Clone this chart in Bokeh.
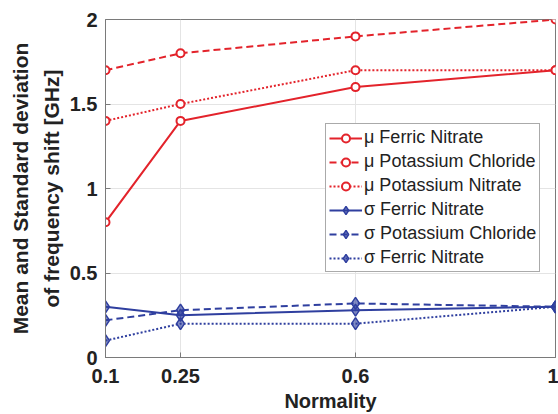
from bokeh.plotting import figure
from bokeh.models import FixedTicker, Legend, LegendItem
from bokeh.embed import file_html
from bokeh.resources import INLINE

normality = [0.1, 0.25, 0.6, 1.0]
mu_ferric_nitrate = [0.8, 1.4, 1.6, 1.7]
mu_potassium_chloride = [1.7, 1.8, 1.9, 2.0]
mu_potassium_nitrate = [1.4, 1.5, 1.7, 1.7]
sigma_ferric_nitrate = [0.3, 0.25, 0.28, 0.3]
sigma_potassium_chloride = [0.22, 0.28, 0.32, 0.3]
sigma_ferric_nitrate_2 = [0.1, 0.2, 0.2, 0.3]

x_ticks = [0.1, 0.25, 0.6, 1.0]
x_tick_labels = ["0.1", "0.25", "0.6", "1"]
y_ticks = [0, 0.5, 1, 1.5, 2]
y_tick_labels = ["0", "0.5", "1", "1.5", "2"]

RED = "#e3232b"
BLUE = "#2f3f9f"
FONT = "Liberation Sans"

p = figure(width=558, height=414, x_range=(0.1, 1.0), y_range=(0, 2),
           output_backend="svg", toolbar_location=None,
           min_border_left=105, min_border_right=3, min_border_top=19,
           min_border_bottom=57)
p.background_fill_color = "white"
p.border_fill_color = "white"
p.outline_line_color = "#7a7a7a"
p.outline_line_width = 1

for ax in (p.xaxis[0], p.yaxis[0]):
    ax.major_label_text_font = FONT
    ax.major_label_text_font_style = "bold"
    ax.major_label_text_font_size = "20px"
    ax.major_label_text_color = "#222222"
    ax.axis_label_text_font = FONT
    ax.axis_label_text_font_style = "bold"
    ax.axis_label_text_font_size = "21px"
    ax.axis_label_text_color = "#222222"
    ax.major_tick_in = 5
    ax.major_tick_out = 0
    ax.minor_tick_in = 0
    ax.minor_tick_out = 0
    ax.axis_line_color = "#7a7a7a"
    ax.major_tick_line_color = "#7a7a7a"

p.yaxis.axis_label_text_line_height = 1.35
p.xaxis.axis_label_text_font_size = "20px"
p.xaxis.axis_label_text_line_height = 1.0
p.xaxis.ticker = FixedTicker(ticks=x_ticks)
p.xaxis.major_label_overrides = {t: l for t, l in zip(x_ticks, x_tick_labels)}
p.yaxis.ticker = FixedTicker(ticks=y_ticks)
p.yaxis.major_label_overrides = {t: l for t, l in zip(y_ticks, y_tick_labels)}
p.xaxis.axis_label = "Normality"
p.yaxis.axis_label = "Mean and Standard deviation\nof frequency shift [GHz]"
p.xaxis.major_label_standoff = 11
p.yaxis.major_label_standoff = 8
p.yaxis.axis_label_standoff = 4
p.xaxis.axis_label_standoff = 4

p.xgrid.grid_line_color = "#e4e4e4"
p.ygrid.grid_line_color = "#e4e4e4"

series = [
    ("\u03bc Ferric Nitrate", mu_ferric_nitrate, RED, "solid", "circle"),
    ("\u03bc Potassium Chloride", mu_potassium_chloride, RED, "7 4", "circle"),
    ("\u03bc Potassium Nitrate", mu_potassium_nitrate, RED, "2 2", "circle"),
    ("\u03c3 Ferric Nitrate", sigma_ferric_nitrate, BLUE, "solid", "diamond"),
    ("\u03c3 Potassium Chloride", sigma_potassium_chloride, BLUE, "7 4", "diamond"),
    ("\u03c3 Ferric Nitrate", sigma_ferric_nitrate_2, BLUE, "2 2", "diamond"),
]

items = []
for label, ys, color, dash, marker in series:
    r1 = p.line(normality, ys, line_color=color, line_width=2, line_dash=dash)
    if marker == "circle":
        r2 = p.scatter(normality, ys, marker="circle", size=8, line_color=color,
                       line_width=2, fill_color="white")
    else:
        r2 = p.scatter(normality, ys, marker="diamond", size=12, line_color=color,
                       line_width=1.5, fill_color=color, fill_alpha=0.6)
    items.append(LegendItem(label=label, renderers=[r1, r2]))

legend = Legend(items=items, location=(220, 85))
legend.label_text_font = FONT
legend.label_text_font_size = "18px"
legend.label_text_color = "#222222"
legend.glyph_width = 33
legend.glyph_height = 20
legend.label_height = 20
legend.spacing = 3
legend.padding = 3
legend.margin = 0
legend.label_standoff = 2
legend.border_line_color = "#555555"
legend.border_line_width = 1
legend.background_fill_alpha = 1
p.add_layout(legend, "center")

open("out.html", "w").write(file_html(p, INLINE))
